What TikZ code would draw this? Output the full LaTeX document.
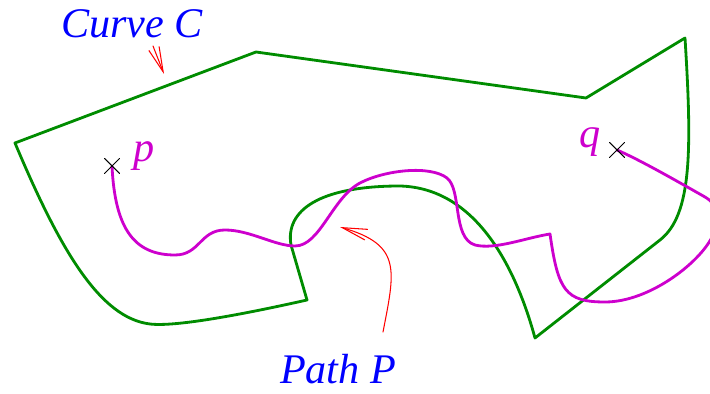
\documentclass[tikz,border=0pt]{standalone}
\usepackage{fontspec}
\setmainfont{Liberation Serif}
\usetikzlibrary{arrows.meta}
\definecolor{curvegreen}{RGB}{0,140,0}
\definecolor{pathmagenta}{RGB}{205,0,205}

\begin{document}
\begin{tikzpicture}[x=0.02cm,y=-0.02cm,line cap=round,line join=round,
  tagtext/.style={font=\fontsize{24}{28}\selectfont\itshape,inner sep=0pt,anchor=base},
  curveline/.style={curvegreen,line width=1.6pt},
  pathline/.style={pathmagenta,line width=1.6pt},
  pointer/.style={red,line width=0.6pt,-{Straight Barb[length=5mm,width=2.2mm]}},
  cross/.style={black,line width=0.6pt}]
\useasboundingbox (0,0) rectangle (710,394);
\clip (0,0) rectangle (710,394);
% end points of the path
\coordinate (p) at (112,166);
\coordinate (q) at (617,150);
% curve C
\draw[curveline] (15,143) -- (256,52) -- (586,98) -- (685,38)
  .. controls (692,150) and (692,215) .. (660,240)
  -- (535,338)
  .. controls (515,265) and (475,188) .. (400,186)
  .. controls (320,186) and (285,210) .. (291,245)
  -- (307,300)
  .. controls (240,315) and (175,327) .. (150,324)
  .. controls (100,318) and (60,250) .. cycle;
% path P
\draw[pathline] (p) .. controls (115,230) and (135,255) .. (175,255)
  .. controls (200,255) and (200,230) .. (225,230)
  .. controls (250,230) and (275,246) .. (295,246)
  .. controls (320,246) and (332,198) .. (360,183)
  .. controls (385,170) and (430,165) .. (447,178)
  .. controls (462,190) and (452,238) .. (475,245)
  .. controls (495,250) and (525,238) .. (550,234)
  .. controls (558,290) and (565,302) .. (605,302)
  .. controls (650,302) and (700,262) .. (712,237)
  .. controls (722,215) and (718,205) .. (705,197)
  .. controls (675,180) and (640,160) .. (q);
\draw[cross] (p) ++(-7.5,-7.5) -- ++(15,15) ++(0,-15) -- ++(-15,15);
\draw[cross] (q) ++(-7.5,-7.5) -- ++(15,15) ++(0,-15) -- ++(-15,15);
% labels
\node[tagtext,text=pathmagenta] (p label) at (144,162) {p};
\node[tagtext,text=pathmagenta] (q label) at (590,148) {q};
\node[tagtext,text=blue] (curve label) at (132,38) {Curve C};
\node[tagtext,text=blue] (path label) at (338,384) {Path P};
% pointers
\coordinate (curve tail) at (153,46);
\coordinate (curve tip) at (164,74);
\coordinate (path tail) at (383,332);
\coordinate (path tip) at (340,227);
\draw[pointer] (curve tail) -- (curve tip);
\draw[pointer] (path tail) .. controls (395,270) and (402,245) .. (path tip);
\end{tikzpicture}
\end{document}
